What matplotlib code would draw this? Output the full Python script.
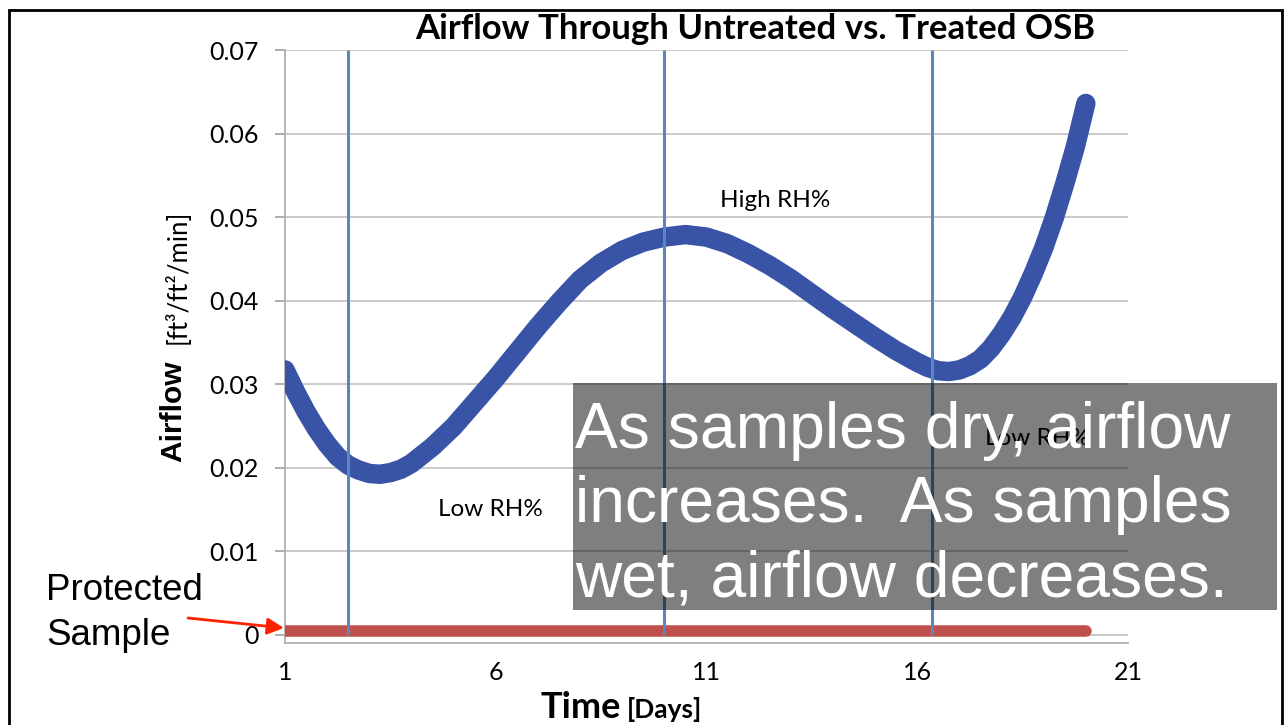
import matplotlib
matplotlib.use("Agg")
import matplotlib.pyplot as plt
from matplotlib.patches import Rectangle, FancyArrowPatch

# --- data ----------------------------------------------------------------
days = [1.0, 1.25, 1.5, 1.75, 2.0, 2.25, 2.5, 2.75, 3.0, 3.25, 3.5, 3.75,
        4.0, 4.5, 5.0, 5.5, 6.0, 6.5, 7.0, 7.5, 8.0, 8.5, 9.0, 9.5, 10.0,
        10.5, 11.0, 11.5, 12.0, 12.5, 13.0, 13.5, 14.0, 14.5, 15.0, 15.5,
        16.0, 16.25, 16.5, 16.75, 17.0, 17.25, 17.5, 17.75, 18.0, 18.25,
        18.5, 18.75, 19.0, 19.25, 19.5, 19.75, 20.0]
airflow_untreated = [0.0317, 0.0291, 0.0267, 0.0246, 0.0228, 0.0213, 0.0203,
                     0.0197, 0.0193, 0.0192, 0.0194, 0.0198, 0.0205, 0.0225,
                     0.0249, 0.0278, 0.0307, 0.0338, 0.0369, 0.0398, 0.0425,
                     0.0445, 0.0460, 0.0470, 0.0476, 0.0479, 0.0476, 0.0468,
                     0.0456, 0.0442, 0.0426, 0.0408, 0.0390, 0.0373, 0.0356,
                     0.0340, 0.0326, 0.0320, 0.0316, 0.0315, 0.0317, 0.0322,
                     0.0330, 0.0343, 0.0360, 0.0380, 0.0404, 0.0432, 0.0463,
                     0.0499, 0.0540, 0.0584, 0.0636]

protected_days = [1, 5, 10, 15, 20]
airflow_protected = [0.0004, 0.0004, 0.0004, 0.0004, 0.0004]

rh_change_days = [2.5, 10.0, 16.35]

x_ticks = [1, 6, 11, 16, 21]
y_ticks = [0, 0.01, 0.02, 0.03, 0.04, 0.05, 0.06, 0.07]
y_tick_labels = ["0", "0.01", "0.02", "0.03", "0.04", "0.05", "0.06", "0.07"]

W, H = 1288, 725


def fx(px):
    return px / W


def fy(py):
    return 1 - py / H


CAL = ["Lato", "DejaVu Sans"]
ARIAL = ["Liberation Sans", "DejaVu Sans"]

fig = plt.figure(figsize=(W / 100, H / 100), dpi=100)
fig.patch.set_facecolor("white")
ax = fig.add_axes([fx(285), fy(643), fx(1128) - fx(285), fy(50) - fy(643)])

# gridlines
ax.set_axisbelow(True)
ax.yaxis.grid(True, color="#c6c6c6", linewidth=1.3)
ax.xaxis.grid(False)

# series
ax.plot(protected_days, airflow_protected, color="#c0504d", linewidth=8.3,
        solid_capstyle="round", zorder=3)
ax.plot(days, airflow_untreated, color="#3953a6", linewidth=14,
        solid_capstyle="round", solid_joinstyle="round", zorder=4)
ax.vlines(rh_change_days, 0, 0.07, color="#5a86c0", linewidth=2.2, zorder=5)

ax.set_xlim(1, 21)
ax.set_ylim(-0.001, 0.07)
ax.set_xticks(x_ticks)
ax.set_xticklabels([str(t) for t in x_ticks], fontfamily=CAL, fontsize=18)
ax.set_yticks(y_ticks)
ax.set_yticklabels(y_tick_labels, fontfamily=CAL, fontsize=18)
ax.tick_params(axis="y", length=7, color="#a0a0a0", width=1.2, pad=12)
ax.tick_params(axis="x", length=0, pad=13)

for s in ["top", "right"]:
    ax.spines[s].set_visible(False)
for s in ["left", "bottom"]:
    ax.spines[s].set_color("#b0b0b0")
    ax.spines[s].set_linewidth(1.3)

# in-chart notes
ax.text(12.62, 0.0520, "High RH%", fontfamily=CAL, fontsize=17.5,
        ha="center", va="center", zorder=6)
ax.text(5.88, 0.0150, "Low RH%", fontfamily=CAL, fontsize=17.5,
        ha="center", va="center", zorder=6)
ax.text(18.86, 0.0235, "Low RH%", fontfamily=CAL, fontsize=17.5,
        ha="center", va="center", zorder=6)

# title and axis labels
fig.text(fx(755), fy(29), "Airflow Through Untreated vs. Treated OSB",
         fontfamily=CAL, fontweight="bold", fontsize=25,
         ha="center", va="center")
fig.text(fx(173), fy(462), "Airflow", fontfamily=ARIAL, fontweight="bold",
         fontsize=21.5, rotation=90, ha="left", va="center",
         rotation_mode="anchor")
fig.text(fx(178), fy(344), "[ft³/ft²/min]", fontfamily=CAL, fontsize=18.5,
         rotation=90, ha="left", va="center", rotation_mode="anchor")
fig.text(fx(621), fy(707), "Time", fontfamily=CAL, fontweight="bold",
         fontsize=26, ha="right", va="center")
fig.text(fx(627), fy(710), "[Days]", fontfamily=CAL, fontweight="bold",
         fontsize=19, ha="left", va="center")

# protected sample callout
fig.text(fx(46), fy(613), "Protected\nSample", fontfamily=ARIAL, fontsize=26.5,
         ha="left", va="center", linespacing=1.38)
fig.add_artist(FancyArrowPatch(
    (fx(188), fy(618)), (fx(284), fy(628)), transform=fig.transFigure,
    arrowstyle="-|>,head_length=10,head_width=5", color="#ff2200",
    linewidth=2, shrinkA=0, shrinkB=0))

# overlay box with message
fig.add_artist(Rectangle((fx(573), fy(610)), fx(1277) - fx(573),
                         fy(383) - fy(610), transform=fig.transFigure,
                         facecolor="black", alpha=0.5, edgecolor="none",
                         zorder=10))
fig.text(fx(575), fy(505),
         "As samples dry, airflow\nincreases.  As samples\nwet, airflow decreases.",
         fontfamily=ARIAL, fontsize=46.2, color="white", ha="left", va="center",
         linespacing=1.3, zorder=11)

# slide frame
fig.add_artist(Rectangle((fx(9), fy(740)), fx(1282) - fx(9), fy(10) - fy(740),
                         transform=fig.transFigure, facecolor="none",
                         edgecolor="black", linewidth=2, zorder=12))

fig.savefig("out.png", dpi=100)
